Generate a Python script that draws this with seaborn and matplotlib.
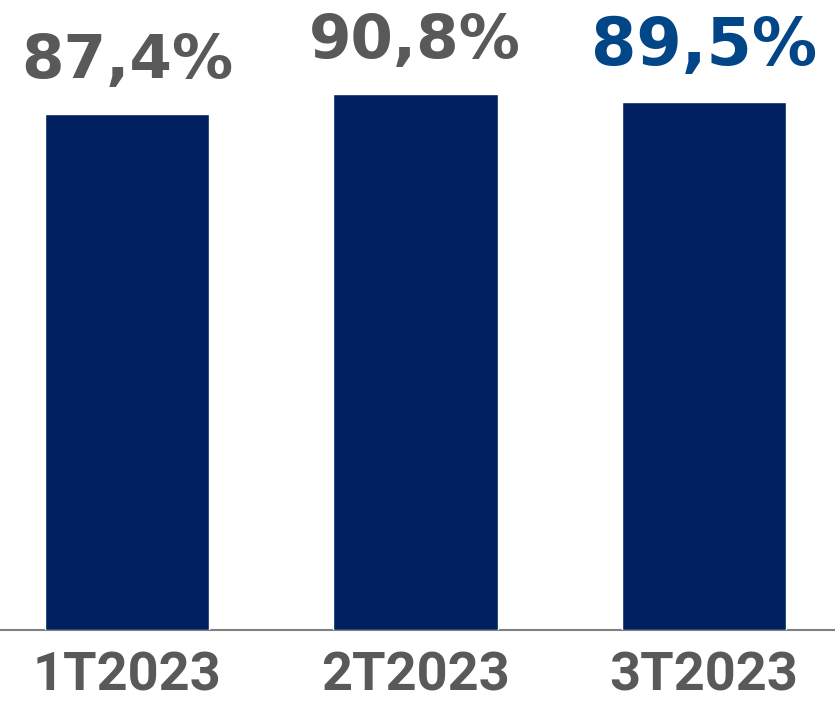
import seaborn as sns
import matplotlib.pyplot as plt
import pandas as pd

# Dados do gráfico
trimestres = ["1T2023", "2T2023", "3T2023"]
valores = [87.4, 90.8, 89.5]
rotulos = ["87,4%", "90,8%", "89,5%"]
cores_rotulos = ["#595959", "#595959", "#034687"]
tamanhos_rotulos = [44, 44, 47]

df = pd.DataFrame({"Trimestre": trimestres, "Valor": valores})

sns.set_style("white")
fig = plt.figure(figsize=(8.35, 7.01), dpi=100)
ax = fig.add_axes([0, 0.1013, 1, 0.8987])

# Barras
sns.barplot(data=df, x="Trimestre", y="Valor", color="#002060",
            width=0.57, saturation=1, ax=ax)

# Rótulos de valor acima das barras
for i, p in enumerate(ax.patches):
    ax.annotate(rotulos[i], (p.get_x() + p.get_width() / 2, p.get_height()),
                xytext=(0, 26), textcoords="offset points",
                ha="center", va="baseline", fontsize=tamanhos_rotulos[i],
                fontweight="bold", color=cores_rotulos[i],
                family="DejaVu Sans")

ax.set_xlim(-0.44, 2.455)
ax.set_ylim(0, 106.7)
ax.set_xlabel("")
ax.set_ylabel("")
ax.set_yticks([])

# Eixo
for s in ["top", "right", "left"]:
    ax.spines[s].set_visible(False)
ax.spines["bottom"].set_color("#808080")
ax.spines["bottom"].set_linewidth(1.5)
ax.spines["bottom"].set_zorder(0)

ax.tick_params(axis="x", length=0, pad=15, labelsize=39, labelcolor="#595959")
for t in ax.get_xticklabels():
    t.set_fontweight("bold")
    t.set_family("Roboto")

fig.savefig("out.png", dpi=100)
